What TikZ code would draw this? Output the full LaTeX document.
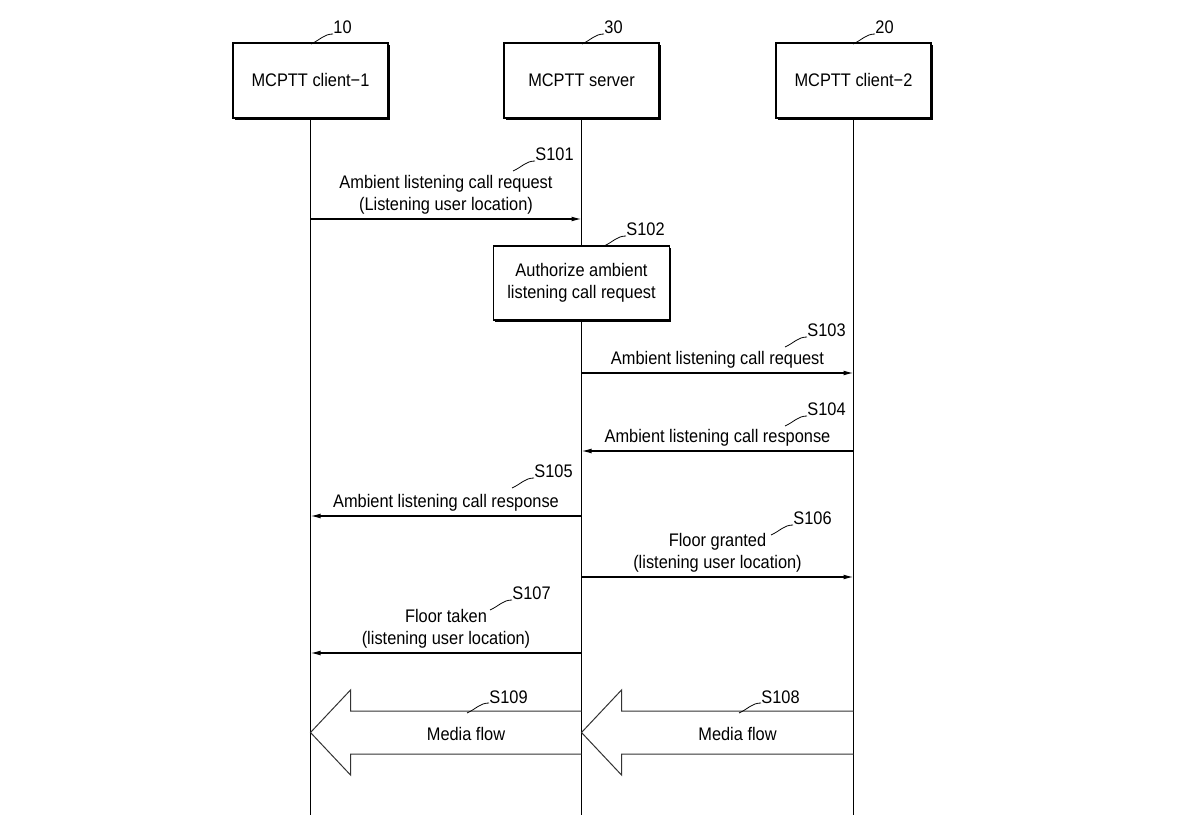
\documentclass[tikz,border=0pt]{standalone}
\usepackage{fontspec}
\setmainfont{Liberation Sans}[FakeStretch=0.9]
\usetikzlibrary{arrows.meta,shadows,calc}

\begin{document}
\begin{tikzpicture}[x=0.5pt,y=-0.5pt,
    every node/.style={font=\fontsize{9.1}{11}\selectfont},
    ent/.style={draw,fill=white,line width=0.6pt,minimum width=77.5pt,minimum height=37.5pt,align=center,
      general shadow={fill=black,shadow xshift=0.8pt,shadow yshift=-0.8pt}},
    head/.style={ent,text height=0.72em,text depth=0.1em},
    life/.style={line width=0.6pt},
    msg/.style={line width=0.6pt,-{Latex[length=5pt,width=2.4pt]}},
    msgtxt/.style={above=1pt,inner sep=1pt,align=center},
    flow/.style={line width=0.5pt,black!80,line join=miter},
    tag/.style={anchor=base west,inner sep=0pt},
    lead/.style={line width=0.4pt}]
            \useasboundingbox (0,0) rectangle (1184,828);
            \node[head] (cl1) at (310.5,80.5) {MCPTT client−1};
            \node[head] (srv) at (581.5,80.5) {MCPTT server};
            \node[head] (cl2) at (853.5,80.5) {MCPTT client−2};
            \coordinate (bot) at (0,815);
            \foreach \n in {cl1,srv,cl2} \draw[life] (\n.south) -- (\n |- bot);
            \node[tag] (n10) at (333,34) {10};
            \node[tag] (n30) at (604,34) {30};
            \node[tag] (n20) at (875,34) {20};
            \coordinate (y101) at (0,219);
            \coordinate (y103) at (0,373);
            \coordinate (y104) at (0,451);
            \coordinate (y105) at (0,516);
            \coordinate (y106) at (0,577);
            \coordinate (y107) at (0,653);
            \coordinate (y108) at (0,732.5);
            \draw[msg] (cl1 |- y101) -- node[msgtxt] {Ambient listening call request\\(Listening user location)} (srv |- y101);
            \node[tag] (s101) at (535,161) {S101};
            \node[ent,minimum width=88pt,minimum height=37pt] (auth) at (581.5,283) {Authorize ambient\\listening call request};
            \node[tag] (s102) at (626,236) {S102};
            \draw[msg] (srv |- y103) -- node[msgtxt] {Ambient listening call request} (cl2 |- y103);
            \node[tag] (s103) at (807,337) {S103};
            \draw[msg] (cl2 |- y104) -- node[msgtxt] {Ambient listening call response} (srv |- y104);
            \node[tag] (s104) at (807,416) {S104};
            \draw[msg] (srv |- y105) -- node[msgtxt] {Ambient listening call response} (cl1 |- y105);
            \node[tag] (s105) at (534,478) {S105};
            \draw[msg] (srv |- y106) -- node[msgtxt] {Floor granted\\(listening user location)} (cl2 |- y106);
            \node[tag] (s106) at (793,525) {S106};
            \draw[msg] (srv |- y107) -- node[msgtxt] {Floor taken\\(listening user location)} (cl1 |- y107);
            \node[tag] (s107) at (512,600) {S107};
            \draw[flow] ($(srv |- y108)+(0,-21.5)$) -- ($(cl1 |- y108)+(40,-21.5)$) -- ++(0,-21) -- (cl1 |- y108)
                -- ++(40,42.5) -- ++(0,-21) -- ($(srv |- y108)+(0,21.5)$);
            \draw[flow] ($(cl2 |- y108)+(0,-21.5)$) -- ($(srv |- y108)+(40,-21.5)$) -- ++(0,-21) -- (srv |- y108)
                -- ++(40,42.5) -- ++(0,-21) -- ($(cl2 |- y108)+(0,21.5)$);
            \node (mf1) at ($(cl1 |- y108)!.5!(srv |- y108)+(20,1)$) {Media flow};
            \node (mf2) at ($(srv |- y108)!.5!(cl2 |- y108)+(20,1)$) {Media flow};
            \node[tag] (s109) at (489,703) {S109};
            \node[tag] (s108) at (761,703) {S108};
            \foreach \t in {n10,n30,n20,s101,s102,s103,s104,s105,s106,s107,s108,s109}
                \draw[lead] (\t.base west) .. controls +(-9,0) and +(9,-4) .. ++(-22,10) coordinate (\t-e);
 \end{tikzpicture}
\end{document}
